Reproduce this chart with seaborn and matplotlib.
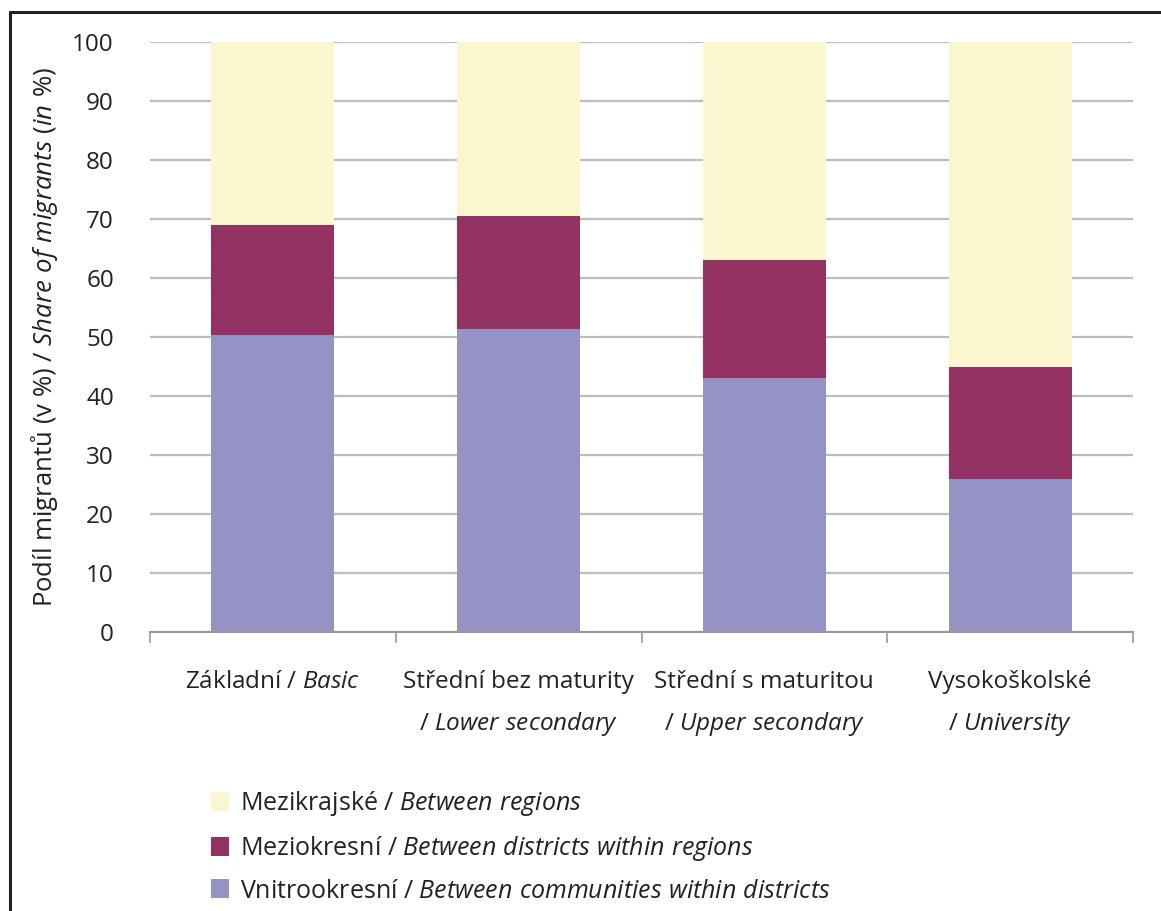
import matplotlib
matplotlib.use('Agg')
import matplotlib.pyplot as plt
from matplotlib import font_manager
from matplotlib.lines import Line2D
from matplotlib.patches import Patch
import seaborn as sns
import numpy as np
import pandas as pd

### Data

categories = ['Základní', 'Střední bez maturity', 'Střední s maturitou', 'Vysokoškolské']
categories_en = ['Basic', 'Lower secondary', 'Upper secondary', 'University']
within_districts = [50.4, 51.4, 43.1, 25.9]
between_districts = [18.6, 19.1, 20.0, 19.0]
between_regions = [31.0, 29.5, 36.9, 55.1]

series_cz = ['Vnitrookresní', 'Meziokresní', 'Mezikrajské']
series_en = ['Between communities within districts', 'Between districts within regions', 'Between regions']
colors = ['#9593c5', '#953264', '#faf6cd']

### Fonts

available = {f.name for f in font_manager.fontManager.ttflist}
font = next(f for f in ['Liberation Sans Narrow', 'Open Sans', 'Noto Sans', 'DejaVu Sans'] if f in available)

sns.set_style('white')
plt.rcParams['font.family'] = [font, 'DejaVu Sans']
plt.rcParams['mathtext.fontset'] = 'custom'
plt.rcParams['mathtext.rm'] = font
plt.rcParams['mathtext.it'] = font + ':italic'


def it(s):
    return '$\\mathit{' + s.replace(' ', '\\ ').replace('%', '\\%') + '}$'


df = pd.DataFrame({'cat': categories,
                   's0': within_districts,
                   's1': between_districts,
                   's2': between_regions})
cum = np.cumsum(df[['s0', 's1', 's2']].values, axis=1)

fig = plt.figure(figsize=(11.61, 9.11), dpi=100)
ax = fig.add_axes([150 / 1161, 1 - 632 / 911, (1133 - 150) / 1161, (632 - 42) / 911])

# stacked: draw the tallest first
for i in [2, 1, 0]:
    sns.barplot(x=df['cat'], y=cum[:, i], color=colors[i], width=0.5,
                saturation=1, ax=ax, linewidth=0, zorder=3)

ax.set_ylim(0, 100)
ax.set_xlim(-0.5, 3.5)
ax.set_yticks(range(0, 101, 10))
ax.tick_params(axis='y', length=0, labelsize=17.5, pad=26, labelcolor='#222222')
ax.yaxis.grid(True, color='#bdbdbd', linewidth=1.6, zorder=0)
ax.set_axisbelow(True)
for s in ['top', 'right', 'left']:
    ax.spines[s].set_visible(False)
ax.spines['bottom'].set_color('#999999')
ax.spines['bottom'].set_linewidth(1.5)
ax.spines['bottom'].set_zorder(4)

ax.set_xticks([-0.5, 0.5, 1.5, 2.5, 3.5])
ax.set_xticklabels([])
ax.tick_params(axis='x', bottom=True, length=8, width=1.2, color='#999999', direction='out')
ax.set_xlabel('')

ax.set_ylabel('Podíl migrantů (v %) / ' + it('Share of migrants (in %)'),
              fontsize=18.5, labelpad=9, color='#222222')

# category labels: Czech + italic English
for i, (cz, en) in enumerate(zip(categories, categories_en)):
    if i == 0:
        ax.text(i, -0.095, cz + ' / ' + it(en), ha='center', va='baseline',
                fontsize=17.5, color='#222222', transform=ax.get_xaxis_transform())
    else:
        ax.text(i, -0.095, cz, ha='center', va='baseline',
                fontsize=17.5, color='#222222', transform=ax.get_xaxis_transform())
        ax.text(i, -0.166, '/ ' + it(en), ha='center', va='baseline',
                fontsize=17.5, color='#222222', transform=ax.get_xaxis_transform())

handles = [Patch(facecolor=colors[i], edgecolor='none') for i in [2, 1, 0]]
labels = [series_cz[i] + ' / ' + it(series_en[i]) for i in [2, 1, 0]]
fig.legend(handles, labels, loc='upper left', bbox_to_anchor=(188 / 1161, 1 - 767 / 911),
           frameon=False, fontsize=18, handlelength=0.75, handleheight=0.8,
           handletextpad=0.45, labelspacing=0.62, labelcolor='#222222')

# frame lines of the original figure
fig.add_artist(Line2D([10 / 1161, 1], [1 - 12 / 911, 1 - 12 / 911], color='#222222', linewidth=2.2))
fig.add_artist(Line2D([10 / 1161, 10 / 1161], [0, 1 - 12 / 911], color='#222222', linewidth=2.2))

fig.savefig('out.png', dpi=100)
